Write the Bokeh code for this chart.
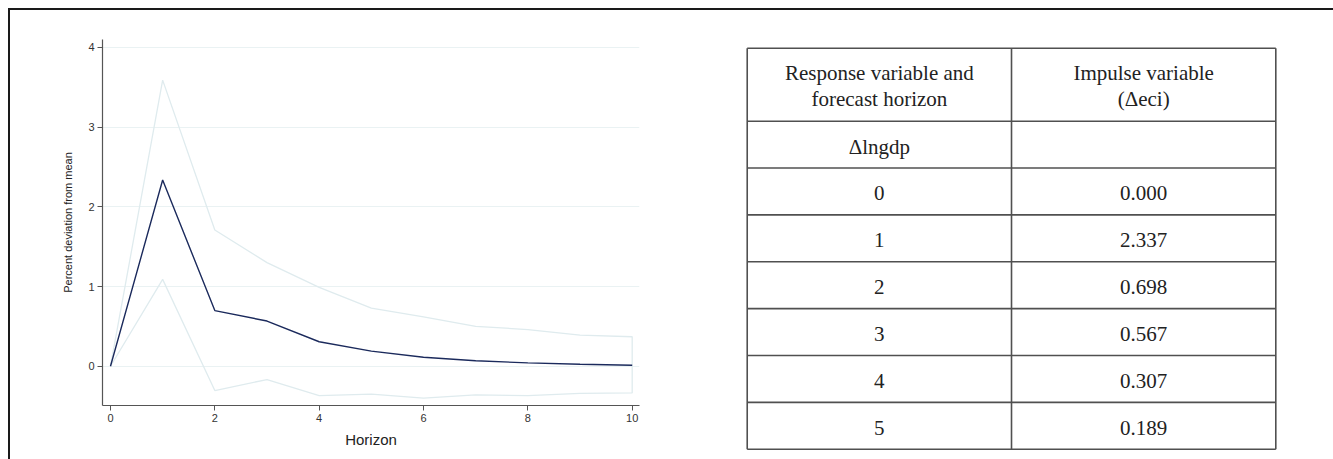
from bokeh.plotting import figure
from bokeh.layouts import row, column
from bokeh.models import Range1d, FixedTicker
from bokeh.core.properties import value
from bokeh.embed import file_html
from bokeh.resources import INLINE

# ---------------- data ----------------
horizon = [0, 1, 2, 3, 4, 5, 6, 7, 8, 9, 10]
irf = [0.000, 2.337, 0.698, 0.567, 0.307, 0.189, 0.113, 0.068, 0.042, 0.025, 0.013]
ci_upper = [0.0, 3.59, 1.71, 1.30, 0.99, 0.73, 0.62, 0.50, 0.46, 0.39, 0.37]
ci_lower = [0.0, 1.09, -0.305, -0.167, -0.37, -0.35, -0.40, -0.36, -0.37, -0.34, -0.335]
x_ticks = [0, 2, 4, 6, 8, 10]
y_ticks = [0, 1, 2, 3, 4]

header_left = ["Response variable and", "forecast horizon"]
header_right = ["Impulse variable", "(\u0394eci)"]
row_labels = ["\u0394lngdp", "0", "1", "2", "3", "4", "5"]
row_values = [""] + ["%.3f" % v for v in irf[:6]]

# ---------------- styles ----------------
SANS = "Liberation Sans"
SERIF = "Liberation Serif"
NAVY = "#1b2a5c"
CI_COL = "#dfebee"
GRID_COL = "#eaf2f3"
AXIS_COL = "#555555"
TABLE_LINE = "#505050"
H = 449

# ---------------- chart ----------------
p1 = figure(width=700, height=H,
            x_range=Range1d(-0.153, 10.14), y_range=Range1d(-0.493, 4.1),
            output_backend="svg", toolbar_location=None,
            min_border_left=92, min_border_right=71,
            min_border_top=29, min_border_bottom=H - 29 - 366)
p1.outline_line_color = None
p1.background_fill_color = "white"
p1.border_fill_color = "white"
p1.xgrid.visible = False
p1.ygrid.grid_line_color = GRID_COL
p1.ygrid.grid_line_width = 1.2

for ax in (p1.xaxis[0], p1.yaxis[0]):
    ax.axis_line_color = AXIS_COL
    ax.axis_line_width = 1.2
    ax.major_tick_line_color = AXIS_COL
    ax.major_tick_out = 5
    ax.major_tick_in = 0
    ax.minor_tick_line_color = None
    ax.major_label_text_font = SANS
    ax.major_label_text_font_size = "11px"
    ax.major_label_text_color = "#333333"
    ax.major_label_standoff = 3
    ax.axis_label_text_font = SANS
    ax.axis_label_text_font_style = "normal"
    ax.axis_label_text_color = "#222222"

p1.xaxis.ticker = FixedTicker(ticks=x_ticks)
p1.yaxis.ticker = FixedTicker(ticks=y_ticks)
p1.ygrid.ticker = FixedTicker(ticks=y_ticks)
p1.xaxis.axis_label = "Horizon"
p1.xaxis.axis_label_text_font_size = "15px"
p1.xaxis.axis_label_standoff = 6
p1.yaxis.axis_label = "Percent deviation from mean"
p1.yaxis.axis_label_text_font_size = "11px"
p1.yaxis.axis_label_standoff = 11

band_x = horizon + horizon[::-1]
band_y = ci_upper + ci_lower[::-1]
p1.patch(band_x, band_y, fill_alpha=0, line_color=CI_COL, line_width=1.3)
p1.line(horizon, irf, line_color=NAVY, line_width=1.4)

# ---------------- table ----------------
px_per_row = 46.86
hh = 73 / px_per_row          # header height in row units
n_rows = len(row_labels)
total = hh + n_rows
top_pad = (47.7 - 10) / px_per_row

p2 = figure(width=623, height=H,
            x_range=Range1d(-0.1389, 2.2183),
            y_range=Range1d(H / px_per_row - top_pad, -top_pad),
            output_backend="svg", toolbar_location=None,
            x_axis_location=None, y_axis_location=None, min_border=0)
p2.outline_line_color = None
p2.grid.visible = False
p2.background_fill_color = "white"
p2.border_fill_color = "white"

h_y = [0, hh] + [hh + i + 1 for i in range(n_rows)]
p2.segment(x0=[0] * len(h_y), y0=h_y, x1=[2] * len(h_y), y1=h_y,
           line_color=TABLE_LINE, line_width=1.6)
v_x = [0, 1, 2]
p2.segment(x0=v_x, y0=[0] * 3, x1=v_x, y1=[total] * 3,
           line_color=TABLE_LINE, line_width=1.6)

line_gap = 25.7 / px_per_row
hdr_y = [hh / 2 - line_gap / 2 + 0.03, hh / 2 + line_gap / 2 + 0.03]
p2.text(x=[0.5, 0.5], y=hdr_y, text=header_left,
        text_font=value(SERIF), text_font_size="21px", text_color="#222222",
        text_align="center", text_baseline="middle")
p2.text(x=[1.5, 1.5], y=hdr_y, text=header_right,
        text_font=value(SERIF), text_font_size="21px", text_color="#222222",
        text_align="center", text_baseline="middle")

row_y = [hh + i + 0.5 + 0.04 for i in range(n_rows)]
p2.text(x=[0.5] * n_rows, y=row_y, text=row_labels,
        text_font=value(SERIF), text_font_size="21px", text_color="#222222",
        text_align="center", text_baseline="middle")
p2.text(x=[1.5] * n_rows, y=row_y, text=row_values,
        text_font=value(SERIF), text_font_size="21px", text_color="#222222",
        text_align="center", text_baseline="middle")

layout = row(column(p1), column(p2),
             styles={"margin-left": "8px", "margin-top": "8px",
                     "border-top": "2px solid #1a1a1a",
                     "border-left": "2px solid #1a1a1a"})

open("out.html", "w").write(file_html(layout, INLINE))
